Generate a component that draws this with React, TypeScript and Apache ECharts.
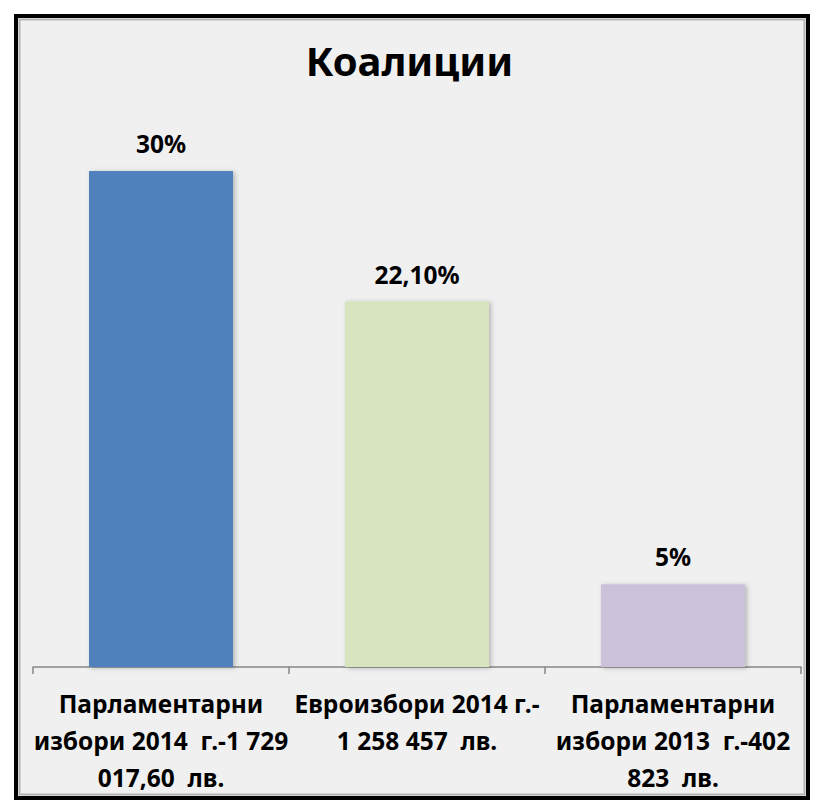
import React, { useEffect, useRef } from "react";
import * as echarts from "echarts";

const titleText = "Коалиции";
const categories = [
  "Парламентарни\nизбори 2014  г.-1 729\n017,60  лв.",
  "Евроизбори 2014 г.-\n1 258 457  лв.",
  "Парламентарни\nизбори 2013  г.-402\n823  лв.",
];
const values = [30, 22.1, 5];
const valueLabels = ["30%", "22,10%", "5%"];
const barColors = ["#4f81bd", "#d7e4bd", "#ccc1da"];

const FONT = "'Noto Sans', sans-serif";

export default function App() {
  const ref = useRef<HTMLDivElement>(null);
  useEffect(() => {
    document.body.style.margin = "0";
    const chart = echarts.init(ref.current!, undefined, { renderer: "svg" });
    chart.setOption({
      animation: false,
      backgroundColor: "#ffffff",
      title: {
        text: titleText,
        left: "center",
        top: 35,
        textStyle: { fontFamily: FONT, fontSize: 40, fontWeight: "bold", color: "#000" },
      },
      graphic: [
        {
          type: "rect",
          z: -10,
          shape: { x: 16, y: 16, width: 792, height: 782 },
          style: { fill: "#f0f0f0", stroke: "#000", lineWidth: 4 },
        },
        {
          type: "rect",
          z: -9,
          shape: { x: 19.5, y: 19.5, width: 785, height: 775 },
          style: { fill: "none", stroke: "#b4b4b4", lineWidth: 2 },
        },
      ],
      grid: { left: 33, right: 18, top: 171, bottom: 134 },
      xAxis: {
        type: "category",
        data: categories,
        axisLine: { lineStyle: { color: "#868686", width: 1.5 } },
        axisTick: { show: true, length: 7, lineStyle: { color: "#868686", width: 1.5 } },
        axisLabel: {
          interval: 0,
          margin: 18,
          fontFamily: FONT,
          fontSize: 24.5,
          fontWeight: "bold",
          color: "#000",
          lineHeight: 37,
        },
      },
      yAxis: { type: "value", min: 0, max: 30, show: false, splitLine: { show: false } },
      series: [
        {
          type: "bar",
          barWidth: 144,
          data: values.map((v, i) => ({
            value: v,
            itemStyle: { color: barColors[i] },
            label: { formatter: valueLabels[i] },
          })),
          itemStyle: {
            shadowBlur: 5,
            shadowColor: "rgba(0,0,0,0.25)",
            shadowOffsetX: 2,
            shadowOffsetY: 1,
          },
          label: {
            show: true,
            position: "top",
            distance: 15,
            fontFamily: FONT,
            fontSize: 24.5,
            fontWeight: "bold",
            color: "#000",
          },
        },
      ],
    });
    return () => chart.dispose();
  }, []);
  return <div ref={ref} style={{ width: 819, height: 801 }} />;
}
